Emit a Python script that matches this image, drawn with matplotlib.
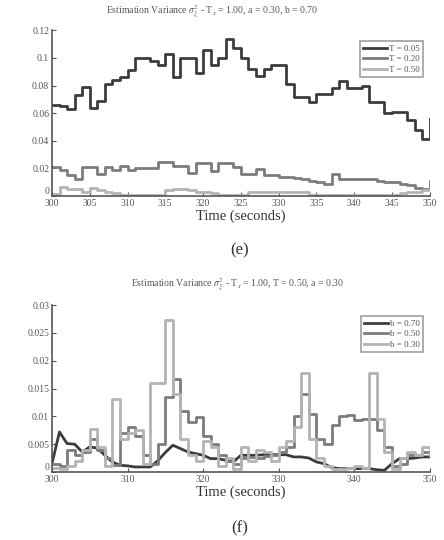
import numpy as np
import matplotlib
matplotlib.use("Agg")
import matplotlib.pyplot as plt

plt.rcParams['font.family'] = ['Liberation Serif', 'DejaVu Serif']
plt.rcParams['mathtext.fontset'] = 'stix'

# panel (e): estimation variance for different T, sampled each second
t_e = list(range(300, 351))
var_T005 = [0.066, 0.065, 0.063, 0.073, 0.079, 0.064, 0.069, 0.081, 0.084, 0.086,
            0.091, 0.100, 0.100, 0.098, 0.095, 0.103, 0.086, 0.100, 0.100, 0.089,
            0.106, 0.095, 0.100, 0.114, 0.107, 0.100, 0.092, 0.087, 0.092, 0.095,
            0.095, 0.081, 0.072, 0.072, 0.068, 0.074, 0.074, 0.078, 0.083, 0.078,
            0.078, 0.080, 0.068, 0.068, 0.060, 0.061, 0.061, 0.055, 0.0475, 0.0415,
            0.056]
var_T020 = [0.021, 0.019, 0.015, 0.0125, 0.021, 0.021, 0.016, 0.021, 0.019, 0.022,
            0.019, 0.020, 0.020, 0.020, 0.0245, 0.0245, 0.022, 0.022, 0.017, 0.024,
            0.024, 0.018, 0.024, 0.024, 0.021, 0.016, 0.016, 0.0197, 0.015, 0.015,
            0.014, 0.014, 0.013, 0.012, 0.011, 0.010, 0.009, 0.016, 0.0125, 0.0125,
            0.012, 0.0125, 0.012, 0.011, 0.0105, 0.010, 0.009, 0.008, 0.006, 0.005,
            0.011]
var_T050 = [0.0015, 0.0068, 0.005, 0.005, 0.003, 0.0055, 0.004, 0.003, 0.002, 0.001,
            0.0005, 0.0005, 0.0005, 0.0005, 0.0005, 0.004, 0.005, 0.005, 0.004, 0.003,
            0.003, 0.002, 0.001, 0.001, 0.001, 0.001, 0.003, 0.003, 0.003, 0.003,
            0.003, 0.003, 0.003, 0.003, 0.0005, 0.0005, 0.0005, 0.0005, 0.0005, 0.0005,
            0.0005, 0.0005, 0.0005, 0.0005, 0.0005, 0.0005, 0.002, 0.003, 0.003, 0.004,
            0.005]

# panel (f): estimation variance for different b
t_f = list(range(300, 351))
var_b070 = [0.0015, 0.0072, 0.0051, 0.0050, 0.0036, 0.0045, 0.0043, 0.0030, 0.0018, 0.0012,
            0.0011, 0.0009, 0.0009, 0.0009, 0.0020, 0.0035, 0.0048, 0.0042, 0.0036, 0.0033,
            0.0030, 0.0024, 0.0024, 0.0021, 0.0018, 0.0030, 0.0030, 0.0030, 0.0031, 0.0031,
            0.0031, 0.0031, 0.0027, 0.0027, 0.0025, 0.0018, 0.0015, 0.0008, 0.0006, 0.0006,
            0.0006, 0.0006, 0.0006, 0.0004, 0.0003, 0.0015, 0.0024, 0.0024, 0.0025, 0.0027,
            0.0027]
var_b050 = [0.0015, 0.0010, 0.0040, 0.0030, 0.0035, 0.0060, 0.0040, 0.0025, 0.0012, 0.0070,
            0.0080, 0.0065, 0.0030, 0.0015, 0.0050, 0.0135, 0.0168, 0.0110, 0.0090, 0.0098,
            0.0065, 0.0050, 0.0030, 0.0020, 0.0015, 0.0025, 0.0027, 0.0025, 0.0028, 0.0030,
            0.0035, 0.0045, 0.0100, 0.0140, 0.0105, 0.0060, 0.0050, 0.0085, 0.0100, 0.0102,
            0.0093, 0.0095, 0.0095, 0.0075, 0.0045, 0.0010, 0.0015, 0.0030, 0.0030, 0.0035,
            0.0030]
var_b030 = [0.0008, 0.0006, 0.0010, 0.0020, 0.0040, 0.0078, 0.0045, 0.0010, 0.0132, 0.0060,
            0.0070, 0.0075, 0.0015, 0.0160, 0.0160, 0.0273, 0.0140, 0.0060, 0.0030, 0.0020,
            0.0055, 0.0045, 0.0010, 0.0025, 0.0005, 0.0045, 0.0020, 0.0040, 0.0035, 0.0020,
            0.0045, 0.0055, 0.0080, 0.0178, 0.0060, 0.0025, 0.0010, 0.0005, 0.0005, 0.0008,
            0.0010, 0.0008, 0.0178, 0.0095, 0.0035, 0.0005, 0.0025, 0.0035, 0.0030, 0.0045,
            0.0030]

dark, mid, light = '#3c3c3c', '#7c7c7c', '#b4b4b4'

fig = plt.figure(figsize=(4.44, 5.40), dpi=100)
ax1 = fig.add_axes([0.117, 0.637, 0.851, 0.307])
ax2 = fig.add_axes([0.117, 0.126, 0.851, 0.309])

ax1.step(t_e, var_T005, where='post', color=dark, lw=2.0, label='T = 0.05')
ax1.step(t_e, var_T020, where='post', color=mid, lw=2.0, label='T = 0.20')
ax1.step(t_e, var_T050, where='post', color=light, lw=2.0, label='T = 0.50')
ax1.set_xlim(300, 350)
ax1.set_ylim(0, 0.12)
ax1.set_xticks(range(300, 351, 5))
ax1.set_yticks([0, 0.02, 0.04, 0.06, 0.08, 0.1, 0.12])
ax1.set_yticklabels(['0', '0.02', '0.04', '0.06', '0.08', '0.1', '0.12'])

ax2.plot(t_f, var_b070, color=dark, lw=2.0, label='b = 0.70')
ax2.step(t_f, var_b050, where='post', color=mid, lw=2.0, label='b = 0.50')
ax2.step(t_f, var_b030, where='post', color=light, lw=2.0, label='b = 0.30')
ax2.set_xlim(300, 350)
ax2.set_ylim(0, 0.03)
ax2.set_xticks(range(300, 351, 10))
ax2.set_yticks([0, 0.005, 0.01, 0.015, 0.02, 0.025, 0.03])
ax2.set_yticklabels(['0', '0.005', '0.01', '0.015', '0.02', '0.025', '0.03'])

for ax in (ax1, ax2):
    for s in ('top', 'right'):
        ax.spines[s].set_visible(False)
    for s in ('left', 'bottom'):
        ax.spines[s].set_color('#555555')
        ax.spines[s].set_linewidth(1.2)
    ax.tick_params(direction='in', length=3, width=0.8, colors='#555555',
                   labelsize=7, labelcolor='#555555', pad=2)
    # zero label sits just above the corner, clear of the first x label
    ax.get_yticklabels()[0].set_verticalalignment('bottom')
    ax.set_xlabel('Time (seconds)', fontsize=10.5, color='#333333', labelpad=1)
    leg = ax.legend(loc='upper right', bbox_to_anchor=(0.995, 0.96), fontsize=6.5,
                    frameon=True, fancybox=False, handlelength=2.6,
                    borderpad=0.35, labelspacing=0.25, handletextpad=0.3)
    leg.get_frame().set_edgecolor('#888888')
    leg.get_frame().set_linewidth(1.2)
    for txt in leg.get_texts():
        txt.set_color('#555555')

fig.text(0.478, 0.978, r'Estimation Variance $\sigma_\xi^2$ - T$_s$ = 1.00, a = 0.30, b = 0.70',
         ha='center', va='center', fontsize=7, color='#555555')
fig.text(0.536, 0.473, r'Estimation Variance $\sigma_\xi^2$ - T$_s$ = 1.00, T = 0.50, a = 0.30',
         ha='center', va='center', fontsize=7, color='#555555')
fig.text(0.54, 0.537, '(e)', ha='center', va='center', fontsize=12, color='#333333')
fig.text(0.54, 0.022, '(f)', ha='center', va='center', fontsize=12, color='#333333')

fig.savefig('out.png', dpi=100)
